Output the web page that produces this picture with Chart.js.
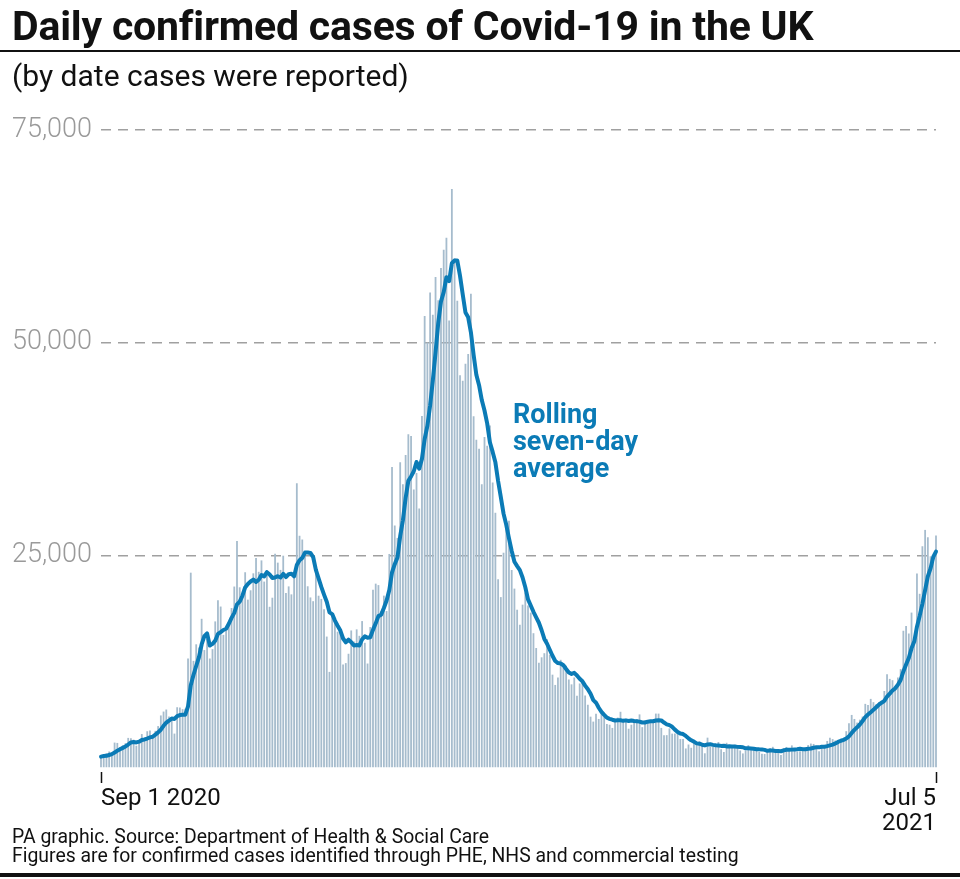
<!DOCTYPE html>
<html>
<head>
<meta charset="utf-8">
<script src="https://cdn.jsdelivr.net/npm/chart.js@4.4.1/dist/chart.umd.min.js"></script>
<style>
  html, body { margin: 0; padding: 0; background: #fff; }
  #wrap { position: relative; width: 960px; height: 879px; overflow: hidden; font-family: Roboto, "Noto Sans", sans-serif; color: #111; }
  #box { position: absolute; left: 0; top: 0; width: 960px; height: 879px; }
  .txt { position: absolute; white-space: nowrap; line-height: 1; }
  #title { left: 12px; top: 6px; font-size: 41px; font-weight: 700; letter-spacing: -0.2px; }
  #rule1 { position: absolute; left: 0; top: 50px; width: 960px; height: 2px; background: #111; }
  #sub { left: 12px; top: 61px; font-size: 30px; font-weight: 400; }
  #note { left: 513px; top: 401px; font-size: 27px; font-weight: 700; line-height: 27px; color: #0b7bb6; }
  #foot { left: 12px; top: 827px; font-size: 19.4px; line-height: 19px; }
  #rule2 { position: absolute; left: 0; top: 873px; width: 960px; height: 4px; background: #111; }
</style>
</head>
<body>
<div id="wrap">
  <div id="box"><canvas id="covidChart"></canvas></div>
  <div class="txt" id="title">Daily confirmed cases of Covid-19 in the UK</div>
  <div id="rule1"></div>
  <div class="txt" id="sub">(by date cases were reported)</div>
  <div class="txt" id="note">Rolling<br>seven-day<br>average</div>
  <div class="txt" id="foot">PA graphic. Source: Department of Health &amp; Social Care<br>Figures are for confirmed cases identified through PHE, NHS and commercial testing</div>
  <div id="rule2"></div>
</div>
<script>
// daily reported cases
// (lateAug = the six days before the first bar, only used for the rolling average)
const lateAug = [1048, 1522, 1276, 1108, 1715, 1406];
const sep = [1295, 1508, 1735, 1940, 1813, 2988, 2948, 2460, 2659, 2919,
  3539, 3497, 3330, 2621, 3105, 3991, 3395, 4322, 4422, 3899,
  4368, 4926, 6178, 6634, 6874, 6042, 5693, 4044, 7143, 7108];
const oct = [6914, 6968, 12872, 22961, 12594, 14542, 14162, 17540, 13864, 15166,
  12872, 13972, 17234, 19724, 18980, 15650, 16171, 16982, 18804, 21331,
  26688, 21242, 20530, 23012, 19790, 20890, 22885, 24701, 23065, 24405, 21915];
const nov = [23254, 18950, 20018, 25177, 24141, 23287, 24957, 20572, 21350, 20412,
  22950, 33470, 27301, 26860, 24962, 21363, 20051, 19609, 22915, 20252,
  19875, 18662, 15450, 11299, 18213, 17555, 16022, 15871, 12155, 12330];
const dec = [13430, 16170, 14879, 16298, 15539, 17272, 14718, 12282, 16578, 20964,
  21672, 21502, 18447, 20263, 18450, 25161, 35383, 28507, 27052, 35928,
  33364, 36804, 39237, 39036, 32725, 34693, 30501, 41385, 53135, 50023, 55892];
const jan = [53285, 57725, 54990, 58784, 60916, 62322, 52618, 68053, 59937, 54940,
  46165, 45533, 47525, 48682, 55761, 41346, 38598, 37535, 33355, 38905,
  37892, 40261, 33552, 30004, 22195, 20089, 25308, 28680, 29079, 23275, 21088];
const feb = [18607, 16840, 19202, 20634, 19114, 18262, 15845, 14104, 12364, 13013,
  13494, 15144, 13308, 10972, 9765, 10625, 12718, 12057, 12027, 10406,
  9834, 10641, 8489, 9938, 9985, 8523, 7434, 6035];
const mar = [5455, 6391, 5766, 6573, 6040, 5177, 5088, 4712, 5766, 5926,
  6609, 5534, 5568, 4618, 5089, 5294, 5758, 6303, 4802, 5587,
  5312, 5342, 5379, 6397, 6393, 4715, 3862, 3862, 4654, 4040, 4052];
const apr = [4479, 3402, 3423, 2297, 2762, 2379, 2963, 3030, 3150, 2589,
  1730, 3568, 2472, 2491, 2672, 3060, 2206, 1882, 2963, 2524,
  2396, 2729, 2678, 2061, 1712, 2064, 2685, 2166, 2445, 2381];
const may = [1907, 1671, 1649, 1946, 2343, 2490, 2047, 1770, 1531, 2357,
  2474, 2284, 2657, 2193, 1926, 1979, 1979, 2412, 2696, 2874,
  2829, 2235, 1979, 2439, 2439, 3180, 3542, 3398, 3240, 3235, 3383];
const jun = [3165, 4330, 5274, 6238, 5765, 5341, 5683, 6048, 7540, 7393,
  8125, 7738, 7490, 7742, 7673, 9055, 11007, 10476, 10321, 9284,
  10633, 11625, 16135, 16703, 15810, 18270, 14876, 22868, 20479, 26068];
const jul = [27989, 27125, 24885, 24248, 27334];

const firstTickLabel = "Sep 1 2020";
const lastTickLabel = ["Jul 5", "2021"];
const yTickValues = [25000, 50000, 75000];

const barColour = "#a6bccd";
const lineColour = "#0b7bb6";

document.addEventListener("DOMContentLoaded", () => {
    const daily = [].concat(sep, oct, nov, dec, jan, feb, mar, apr, may, jun, jul);

    // one category per day from 1 Sep 2020
    const labels = daily.map((_, i) => {
        const d = new Date(Date.UTC(2020, 8, 1 + i));
        return d.toISOString().slice(0, 10);
    });

    // seven-day rolling mean of the bars (window ends on the day)
    const padded = lateAug.concat(daily);
    const rolling = daily.map((_, i) => {
        let sum = 0;
        for (let k = i; k < i + 7; k++) sum += padded[k];
        return Math.round(sum / 7);
    });

    const last = daily.length - 1;
    const ctx = document.getElementById("covidChart").getContext("2d");
    new Chart(ctx, {
        type: "bar",
        data: {
            labels: labels,
            datasets: [
                {
                    type: "line",
                    label: "Rolling seven-day average",
                    data: rolling,
                    borderColor: lineColour,
                    borderWidth: 4,
                    pointRadius: 0,
                    borderJoinStyle: "round",
                    borderCapStyle: "round",
                    tension: 0,
                    clip: false,
                    order: 0,
                },
                {
                    label: "Daily cases",
                    data: daily,
                    backgroundColor: barColour,
                    borderWidth: 0,
                    barPercentage: 0.66,
                    categoryPercentage: 1,
                    clip: false,
                    order: 1,
                },
            ],
        },
        options: {
            responsive: true,
            maintainAspectRatio: false,
            animation: false,
            events: [],
            layout: { padding: { left: 12, right: 24, top: 130, bottom: 0 } },
            plugins: {
                legend: { display: false },
                tooltip: { enabled: false },
            },
            scales: {
                x: {
                    offset: false,
                    border: { display: false },
                    grid: {
                        offset: false,
                        drawOnChartArea: false,
                        drawTicks: true,
                        tickLength: 15,
                        tickWidth: 1.5,
                        tickBorderDash: [0, 4, 11, 40],
                        tickColor: (c) => (c.index === 0 || c.index === last ? "#111" : "rgba(0,0,0,0)"),
                    },
                    ticks: {
                        autoSkip: false,
                        maxRotation: 0,
                        minRotation: 0,
                        align: "inner",
                        padding: 4,
                        color: "#111",
                        font: { family: "Roboto", size: 24, lineHeight: 1.04 },
                        callback: (v, i) => (i === 0 ? firstTickLabel : i === last ? lastTickLabel : ""),
                    },
                    afterFit: (scale) => { scale.height = 111; },
                },
                y: {
                    min: 0,
                    max: 75000,
                    afterBuildTicks: (scale) => {
                        scale.ticks = [0].concat(yTickValues).map((v) => ({ value: v }));
                    },
                    border: { display: false, dash: [10, 7] },
                    grid: {
                        drawTicks: false,
                        lineWidth: 1.5,
                        color: (c) => (c.tick && c.tick.value === 0 ? "rgba(0,0,0,0)" : "#a0a0a0"),
                    },
                    ticks: {
                        padding: 9,
                        color: "#9a9a9a",
                        font: { family: "Roboto", size: 27, weight: "300" },
                        callback: (v) => (v === 0 ? "" : v.toLocaleString("en-GB")),
                    },
                    afterFit: (scale) => { scale.width = 89; },
                },
            },
        },
    });
});
</script>
</body>
</html>
